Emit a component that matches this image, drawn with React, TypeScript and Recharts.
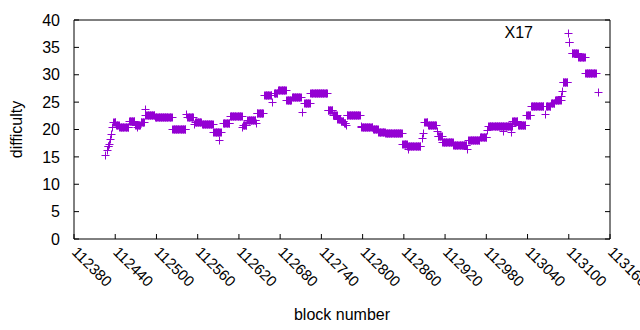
import { ScatterChart, Scatter, XAxis, YAxis } from 'recharts';

// [first block, last block, difficulty]; one point per block
const levelRuns: [number, number, number][] = [
  [112425, 112425, 15.4],
  [112428, 112428, 16.3],
  [112429, 112430, 16.9],
  [112431, 112431, 17.4],
  [112433, 112433, 18.3],
  [112434, 112434, 19.1],
  [112435, 112435, 20.4],
  [112437, 112440, 21.3],
  [112441, 112445, 20.8],
  [112446, 112459, 20.4],
  [112460, 112468, 21.5],
  [112469, 112476, 20.9],
  [112472, 112472, 20.4],
  [112477, 112482, 21.3],
  [112483, 112483, 23.8],
  [112484, 112497, 22.7],
  [112498, 112522, 22.3],
  [112523, 112542, 20.1],
  [112543, 112543, 22.9],
  [112545, 112553, 22.3],
  [112555, 112555, 21.0],
  [112556, 112565, 21.4],
  [112566, 112582, 21.0],
  [112583, 112592, 19.5],
  [112591, 112591, 18.0],
  [112594, 112594, 19.5],
  [112597, 112606, 21.2],
  [112607, 112624, 22.4],
  [112625, 112625, 20.5],
  [112626, 112631, 20.8],
  [112632, 112644, 21.8],
  [112645, 112645, 21.1],
  [112646, 112655, 23.0],
  [112657, 112667, 26.3],
  [112668, 112668, 25.1],
  [112671, 112676, 26.7],
  [112677, 112688, 27.3],
  [112689, 112696, 25.4],
  [112697, 112710, 25.9],
  [112712, 112712, 23.2],
  [112715, 112723, 24.9],
  [112724, 112748, 26.6],
  [112749, 112756, 23.5],
  [112757, 112762, 22.7],
  [112763, 112767, 22.0],
  [112768, 112772, 21.5],
  [112773, 112775, 21.1],
  [112776, 112776, 20.9],
  [112777, 112796, 22.7],
  [112797, 112797, 20.7],
  [112798, 112814, 20.4],
  [112815, 112822, 20.1],
  [112823, 112832, 19.6],
  [112833, 112857, 19.3],
  [112858, 112864, 17.4],
  [112865, 112884, 17.0],
  [112866, 112866, 16.5],
  [112887, 112887, 18.4],
  [112888, 112888, 19.3],
  [112890, 112894, 21.4],
  [112895, 112907, 20.9],
  [112908, 112908, 19.8],
  [112909, 112915, 18.9],
  [112916, 112931, 17.8],
  [112932, 112951, 17.1],
  [112952, 112952, 16.4],
  [112954, 112970, 18.1],
  [112971, 112980, 18.7],
  [112981, 112981, 20.0],
  [112983, 113017, 20.6],
  [113005, 113005, 19.7],
  [113016, 113016, 19.5],
  [113018, 113025, 21.6],
  [113026, 113037, 20.9],
  [113038, 113044, 22.6],
  [113045, 113063, 24.3],
  [113066, 113066, 22.9],
  [113067, 113073, 24.3],
  [113074, 113079, 24.9],
  [113080, 113088, 25.3],
  [113089, 113089, 26.2],
  [113090, 113090, 27.0],
  [113091, 113098, 28.6],
  [113099, 113099, 37.6],
  [113100, 113101, 36.0],
  [113104, 113113, 34.0],
  [113114, 113123, 33.3],
  [113124, 113139, 30.3],
  [113142, 113142, 26.9],
];

const blockTicks = [
  112380, 112440, 112500, 112560, 112620, 112680, 112740, 112800, 112860, 112920, 112980, 113040,
  113100, 113160,
];
const difficultyTicks = [0, 5, 10, 15, 20, 25, 30, 35, 40];
const seriesName = 'X17';

const points = levelRuns.flatMap(([from, to, difficulty]) => {
  const out: { block: number; difficulty: number }[] = [];
  for (let block = from; block <= to; block++) out.push({ block, difficulty });
  return out;
});

const FONT = '"Liberation Sans", Arial, sans-serif';
const PURPLE = '#9400d3';

function PlusMark(props: any) {
  const { cx, cy } = props;
  if (cx == null || cy == null) return null;
  // snap to the pixel grid so the 1px strokes stay crisp, like gnuplot's
  const x = Math.round(cx) + 0.5;
  const y = Math.round(cy) + 0.5;
  return (
    <path
      d={`M${x - 4},${y}H${x + 4}M${x},${y - 4}V${y + 4}`}
      stroke={PURPLE}
      strokeWidth={1}
      fill="none"
    />
  );
}

function BlockTick(props: any) {
  const { x, y, payload } = props;
  const tx = x - 3;
  return (
    <text x={tx} y={y} transform={`rotate(45 ${tx} ${y})`} fontSize={15} fontFamily={FONT} fill="#000">
      {payload.value}
    </text>
  );
}

export default function App() {
  return (
    <div style={{ width: 640, height: 330, fontFamily: FONT }}>
      <style>{'body{margin:0}'}</style>
      <ScatterChart width={640} height={330} margin={{ top: 19, right: 29, bottom: 0, left: 0 }}>
        <XAxis
          dataKey="block"
          type="number"
          domain={[112380, 113160]}
          allowDataOverflow
          ticks={blockTicks}
          interval={0}
          height={91}
          tickSize={-5}
          tickMargin={19}
          axisLine={{ stroke: '#000' }}
          tickLine={{ stroke: '#000' }}
          tick={<BlockTick />}
          label={(p: any) => (
            <text
              x={p.viewBox.x + p.viewBox.width / 2}
              y={p.viewBox.y + 81}
              textAnchor="middle"
              fontSize={16}
              fontFamily={FONT}
              fill="#000"
            >
              block number
            </text>
          )}
        />
        <XAxis
          xAxisId="top"
          orientation="top"
          type="number"
          domain={[112380, 113160]}
          allowDataOverflow
          ticks={blockTicks}
          interval={0}
          height={1}
          tickSize={-5}
          axisLine={{ stroke: '#000' }}
          tickLine={{ stroke: '#000' }}
          tick={() => <g />}
          label={(p: any) => (
            <text x={533} y={38} textAnchor="end" fontSize={16} fontFamily={FONT} fill="#000">
              {seriesName}
            </text>
          )}
        />
        <YAxis
          dataKey="difficulty"
          type="number"
          domain={[0, 40]}
          allowDataOverflow
          ticks={difficultyTicks}
          interval={0}
          width={74}
          tickSize={-5}
          tickMargin={19}
          axisLine={{ stroke: '#000' }}
          tickLine={{ stroke: '#000' }}
          tick={{ fontSize: 16, fontFamily: FONT, fill: '#000' }}
          label={(p: any) => {
            const cy = p.viewBox.y + p.viewBox.height / 2;
            return (
              <text
                x={22}
                y={cy}
                transform={`rotate(-90 22 ${cy})`}
                textAnchor="middle"
                fontSize={16}
                fontFamily={FONT}
                fill="#000"
              >
                difficulty
              </text>
            );
          }}
        />
        <YAxis
          yAxisId="right"
          orientation="right"
          type="number"
          domain={[0, 40]}
          allowDataOverflow
          ticks={difficultyTicks}
          interval={0}
          width={1}
          tickSize={-5}
          axisLine={{ stroke: '#000' }}
          tickLine={{ stroke: '#000' }}
          tick={() => <g />}
        />
        <Scatter
          name={seriesName}
          data={points}
          shape={<PlusMark />}
          isAnimationActive={false}
        />
      </ScatterChart>
    </div>
  );
}
